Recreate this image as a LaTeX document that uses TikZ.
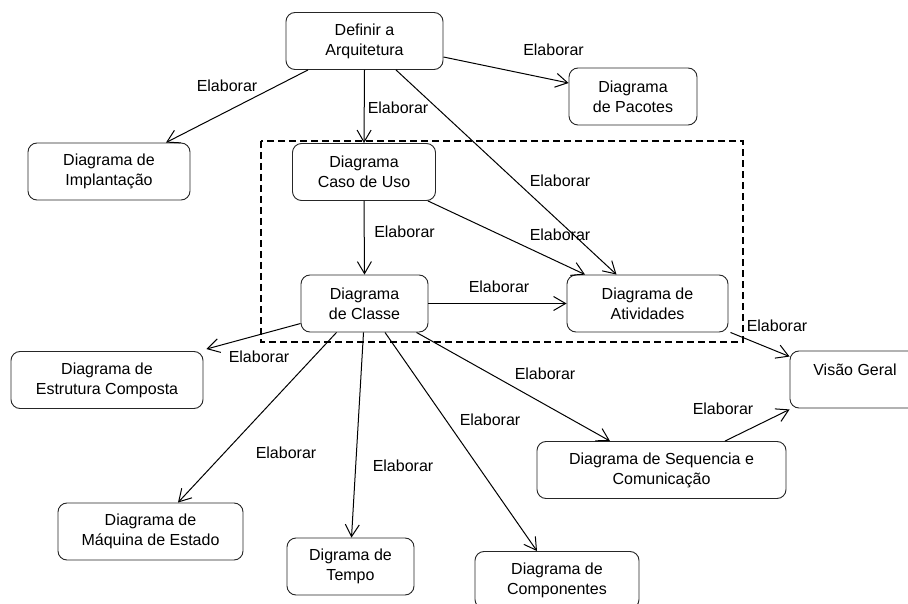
\documentclass[tikz,border=0pt]{standalone}
\usepackage{fontspec}
\setmainfont{Liberation Sans}
\usetikzlibrary{arrows.meta}
\tikzset{
      diagram box/.style={
		draw=black!85,
		line width=0.9pt,
		fill=white,
		rounded corners=9pt,
		minimum width={#1pt},
		minimum height=57pt,
		inner sep=0pt,
		align=center,
	  },
  		link/.style={
    	draw,
    	line width=1pt,
    	-{Straight Barb[length=12pt,width=14pt,line width=1pt]},
      },
  		frame/.style={
    	line width=1.4pt,
    	dash pattern=on 7pt off 4pt,
      }
  	}

\begin{document}
\begin{tikzpicture}[x=1pt, y=-1pt, font=\fontsize{16}{20}\selectfont]
    \useasboundingbox (0,0) rectangle (908,604);
    \clip (0,0) rectangle (908,604);
    \draw [frame] (261,141) rectangle (743,342);
    \node [diagram box=157] (definir) at (364.5,41) {Definir a\\Arquitetura};
    \node [diagram box=128] (pacotes) at (633,96.5) {Diagrama\\de Pacotes};
    \node [diagram box=162] (implantacao) at (109,171.5) {Diagrama de\\Implantação};
    \node [diagram box=143] (caso) at (364,172) {Diagrama\\Caso de Uso};
    \node [diagram box=127] (classe) at (364.5,303.5) {Diagrama\\de Classe};
    \node [diagram box=161] (atividades) at (647.5,303.5) {Diagrama de\\Atividades};
    \node [diagram box=192] (estrutura) at (107,380) {Diagrama de\\Estrutura Composta};
    \node [diagram box=130] (visao) at (855,379.5) {Visão Geral\\~};
    \node [diagram box=249] (sequencia) at (661.5,470) {Diagrama de Sequencia e\\Comunicação};
    \node [diagram box=185] (maquina) at (150.5,531.5) {Diagrama de\\Máquina de Estado};
    \node [diagram box=127] (tempo) at (350.5,566.5) {Digrama de\\Tempo};
    \node [diagram box=164] (componentes) at (557,580) {Diagrama de\\Componentes};
    % connectors
    \draw [link] ([xshift=-56.5]definir.south) -- ([xshift=57]implantacao.north);
    \draw [link] (definir.south) -- (caso.north);
    \draw [link] ([yshift=-16]definir.east) -- ([yshift=13.5]pacotes.west);
    \draw [link] ([xshift=31.5]definir.south) -- ([xshift=-31]atividades.north);
    \draw [link] (caso.south) -- (classe.north);
    \draw [link] ([xshift=-8]caso.south east) -- ([xshift=-62.5]atividades.north);
    \draw [link] (classe.east) -- (atividades.west);
    \draw [link] ([yshift=-20]classe.west) -- ([xshift=3,yshift=2]estrutura.north east);
    \draw [link] ([xshift=2]atividades.south east) -- ([yshift=-6]visao.north west);
    \draw [link] ([xshift=52]classe.south) -- ([xshift=-51.5]sequencia.north);
    \draw [link] ([xshift=63.5]sequencia.north) -- ([yshift=-1]visao.south west);
    \draw [link] ([xshift=-28]classe.south) -- ([xshift=27.5]maquina.north);
    \draw [link] ([xshift=-1]classe.south) -- ([xshift=1]tempo.north);
    \draw [link] ([xshift=20.5]classe.south) -- ([xshift=-20]componentes.north);
    % labels
    \node (el1) at (227,86) {Elaborar};
    \node (el2) at (398,108) {Elaborar};
    \node (el3) at (553.5,50) {Elaborar};
    \node (el4) at (560,181) {Elaborar};
    \node (el5) at (404.5,232) {Elaborar};
    \node (el6) at (560,235) {Elaborar};
    \node (el7) at (499,287) {Elaborar};
    \node (el8) at (259,357) {Elaborar};
    \node (el9) at (777,326) {Elaborar};
    \node (el10) at (545,374) {Elaborar};
    \node (el11) at (723,409) {Elaborar};
    \node (el12) at (286,453) {Elaborar};
    \node (el13) at (403,466) {Elaborar};
    \node (el14) at (490,420) {Elaborar};
  \end{tikzpicture}
\end{document}
